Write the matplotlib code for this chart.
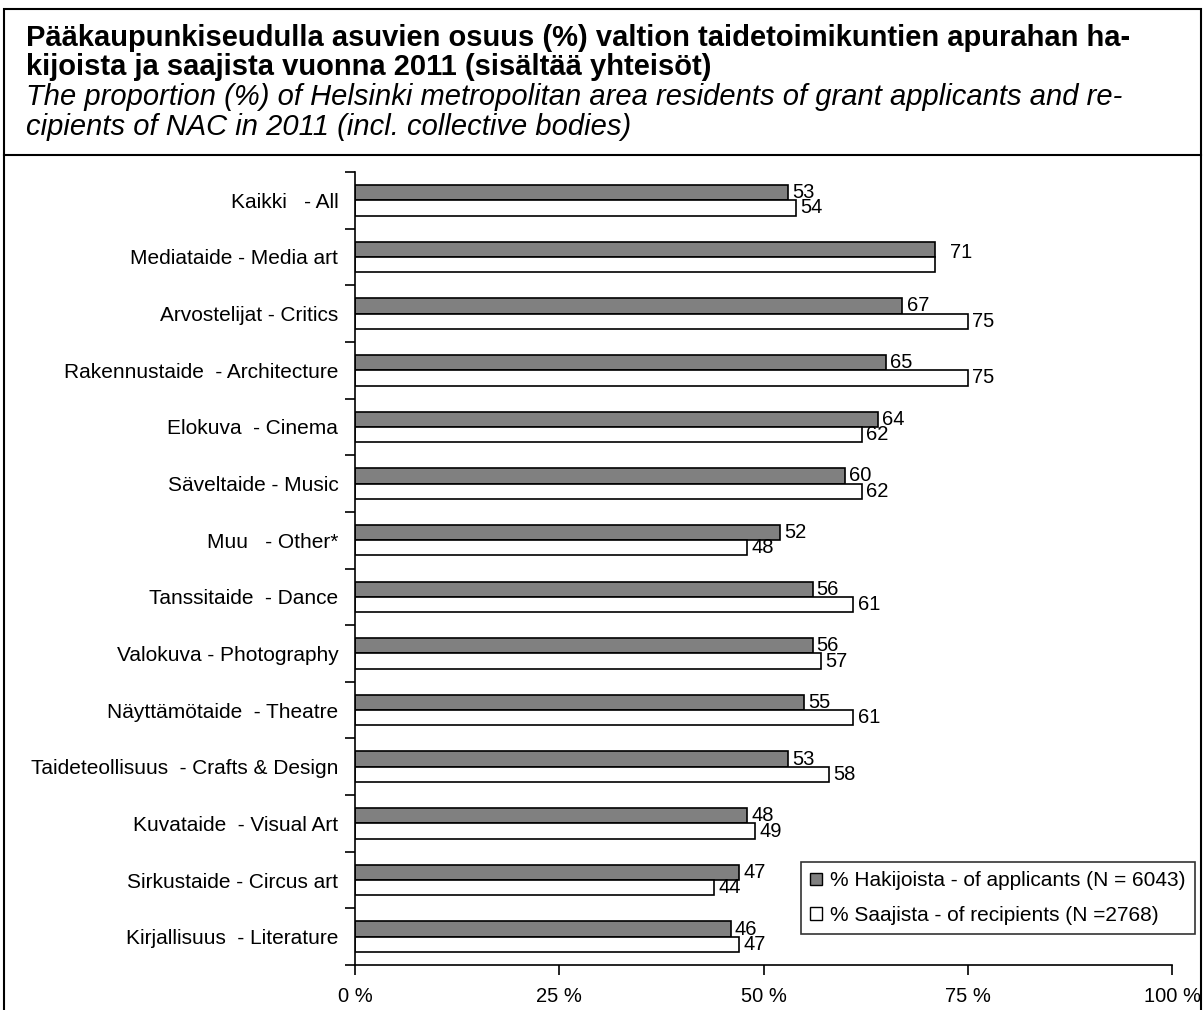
import matplotlib.pyplot as plt
from matplotlib.patches import Patch, Rectangle
from matplotlib.lines import Line2D
import numpy as np

plt.rcParams['font.family'] = ['Liberation Sans', 'DejaVu Sans']

categories = [
    "Kaikki   - All",
    "Mediataide - Media art",
    "Arvostelijat - Critics",
    "Rakennustaide  - Architecture",
    "Elokuva  - Cinema",
    "Säveltaide - Music",
    "Muu   - Other*",
    "Tanssitaide  - Dance",
    "Valokuva - Photography",
    "Näyttämötaide  - Theatre",
    "Taideteollisuus  - Crafts & Design",
    "Kuvataide  - Visual Art",
    "Sirkustaide - Circus art",
    "Kirjallisuus  - Literature",
]
applicants = [53, 71, 67, 65, 64, 60, 52, 56, 56, 55, 53, 48, 47, 46]
recipients = [54, 71, 75, 75, 62, 62, 48, 61, 57, 61, 58, 49, 44, 47]

legend_labels = ["% Hakijoista - of applicants (N = 6043)",
                 "% Saajista - of recipients (N =2768)"]
xticks = [0, 25, 50, 75, 100]
xtick_labels = ["0 %", "25 %", "50 %", "75 %", "100 %"]

title_lines = [
    "Pääkaupunkiseudulla asuvien osuus (%) valtion taidetoimikuntien apurahan ha-",
    "kijoista ja saajista vuonna 2011 (sisältää yhteisöt)",
]
subtitle_lines = [
    "The proportion (%) of Helsinki metropolitan area residents of grant applicants and re-",
    "cipients of NAC in 2011 (incl. collective bodies)",
]

W, H = 1204, 1010
fig = plt.figure(figsize=(W / 100, H / 100), dpi=100)

# frame around the whole chart and the title box
fig.add_artist(Rectangle((4 / W, -0.01), (1201 - 4) / W, 1 - 9 / H + 0.01,
                         transform=fig.transFigure, fill=False,
                         edgecolor='black', linewidth=1.5))
fig.add_artist(Line2D([4 / W, 1201 / W], [1 - 155 / H, 1 - 155 / H],
                      transform=fig.transFigure, color='black', linewidth=1.5))

for line, base in zip(title_lines, [46, 75]):
    fig.text(26 / W, 1 - base / H, line, fontsize=21, fontweight='bold',
             va='baseline', ha='left')
for line, base in zip(subtitle_lines, [105, 135]):
    fig.text(26 / W, 1 - base / H, line, fontsize=21, fontstyle='italic',
             va='baseline', ha='left')

ax = fig.add_axes([355 / W, 1 - 965 / H, (1172 - 355) / W, (965 - 172) / H])

y = np.arange(len(categories))
bh = 0.27
ax.barh(y - bh / 2, applicants, height=bh, color='#808080', edgecolor='black',
        linewidth=1.2, label=legend_labels[0])
ax.barh(y + bh / 2, recipients, height=bh, color='white', edgecolor='black',
        linewidth=1.2, label=legend_labels[1])

for i in range(len(categories)):
    a, r = applicants[i], recipients[i]
    if a == r:
        ax.annotate(str(a), (a, y[i] - 0.08), xytext=(11, 0),
                    textcoords='offset points', va='center', ha='left',
                    fontsize=14.5)
        continue
    ax.annotate(str(a), (a, y[i] - bh / 2), xytext=(3, 0),
                textcoords='offset points', va='center', ha='left',
                fontsize=14.5)
    ax.annotate(str(r), (r, y[i] + bh / 2), xytext=(3, 0),
                textcoords='offset points', va='center', ha='left',
                fontsize=14.5)

ax.set_xlim(0, 100)
ax.set_ylim(len(categories) - 0.5, -0.5)
ax.set_xticks(xticks)
ax.set_xticklabels(xtick_labels, fontsize=14.5)
ax.set_yticks(y)
ax.set_yticklabels(categories, fontsize=15)
ax.set_yticks(np.arange(len(categories) + 1) - 0.5, minor=True)
ax.tick_params(axis='y', which='major', length=0, pad=12)
ax.tick_params(axis='y', which='minor', length=7, width=1.2, direction='out')
ax.tick_params(axis='x', which='major', length=7, width=1.2, direction='out', pad=9)
for s in ['top', 'right']:
    ax.spines[s].set_visible(False)
ax.spines['left'].set_linewidth(1.2)
ax.spines['bottom'].set_linewidth(1.2)

handles = [Patch(facecolor='#808080', edgecolor='black', linewidth=1.0),
           Patch(facecolor='white', edgecolor='black', linewidth=1.0)]
leg = fig.legend(handles, legend_labels, loc='upper left',
                 bbox_to_anchor=(801 / W, 1 - 862 / H), fontsize=15,
                 frameon=True, fancybox=False, edgecolor='black',
                 handlelength=0.55, handleheight=0.55, handletextpad=0.4,
                 borderpad=0.45, labelspacing=0.75, borderaxespad=0)
leg.get_frame().set_linewidth(1.2)

fig.savefig('out.png', dpi=100)
